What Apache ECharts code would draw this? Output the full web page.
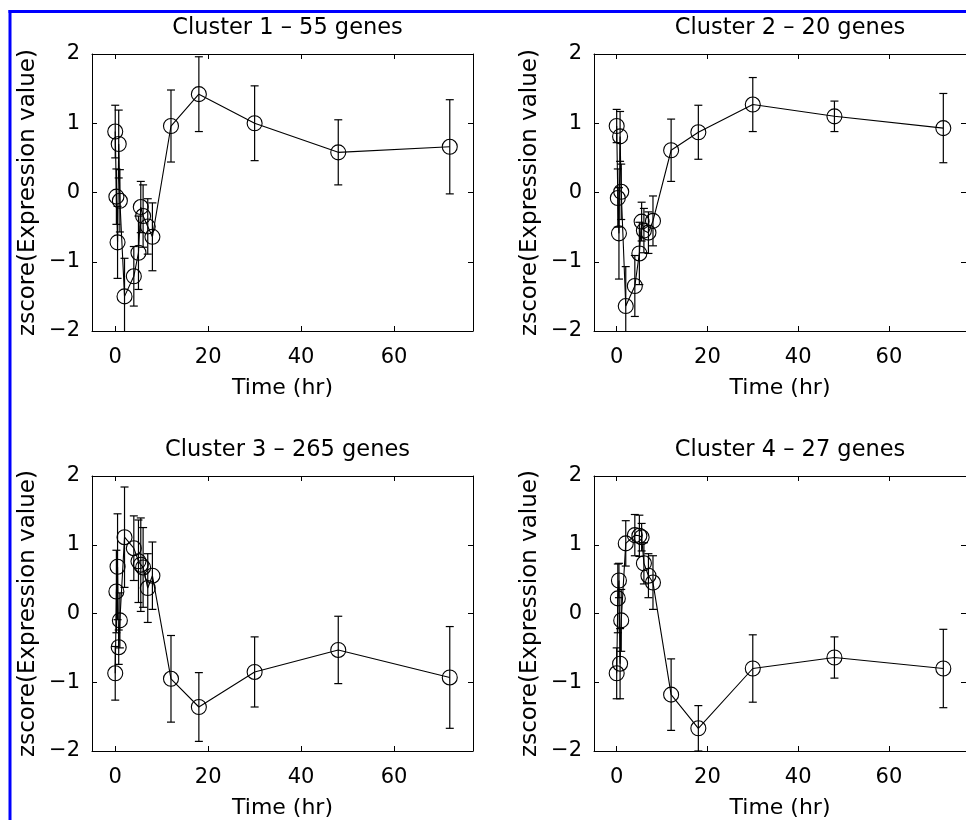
<!DOCTYPE html>
<html>
<head>
<meta charset="utf-8">
<script src="https://cdn.jsdelivr.net/npm/echarts@6/dist/echarts.min.js"></script>
<style>
html,body{margin:0;padding:0;background:#fff;}
#chart{width:966px;height:820px;}
</style>
</head>
<body>
<div id="chart"></div>
<script>
// ---- data ----
const times = [0, 0.25, 0.5, 0.75, 1, 2, 4, 5, 5.5, 6, 7, 8, 12, 18, 30, 48, 72];
const titles = ['Cluster 1 \u2013 55 genes', 'Cluster 2 \u2013 20 genes', 'Cluster 3 \u2013 265 genes', 'Cluster 4 \u2013 27 genes'];
const mean1 = [0.88, -0.06, -0.72, 0.70, -0.12, -1.50, -1.21, -0.87, -0.21, -0.34, -0.49, -0.64, 0.96, 1.42, 1.00, 0.58, 0.66];
const err1  = [0.38, 0.40, 0.52, 0.49, 0.45, 0.55, 0.43, 0.53, 0.37, 0.45, 0.40, 0.49, 0.52, 0.54, 0.54, 0.47, 0.68];
const mean2 = [0.96, -0.08, -0.59, 0.81, 0.01, -1.64, -1.35, -0.88, -0.42, -0.55, -0.58, -0.41, 0.61, 0.87, 1.27, 1.10, 0.93];
const err2  = [0.24, 0.42, 0.66, 0.36, 0.40, 0.57, 0.44, 0.45, 0.28, 0.32, 0.30, 0.36, 0.45, 0.39, 0.39, 0.22, 0.50];
const mean3 = [-0.87, 0.32, 0.68, -0.49, -0.10, 1.11, 0.95, 0.76, 0.71, 0.67, 0.37, 0.55, -0.95, -1.36, -0.85, -0.53, -0.93];
const err3  = [0.39, 0.60, 0.77, 0.25, 0.40, 0.73, 0.47, 0.60, 0.68, 0.58, 0.50, 0.49, 0.63, 0.50, 0.51, 0.49, 0.74];
const mean4 = [-0.87, 0.22, 0.48, -0.73, -0.10, 1.02, 1.14, 1.13, 1.11, 0.73, 0.55, 0.45, -1.18, -1.67, -0.80, -0.64, -0.80];
const err4  = [0.37, 0.50, 0.25, 0.51, 0.45, 0.33, 0.30, 0.30, 0.20, 0.30, 0.32, 0.39, 0.52, 0.33, 0.49, 0.30, 0.57];
const xTicks = [0, 20, 40, 60];
const xName = 'Time (hr)';
const yName = 'zscore(Expression value)';

const means = [mean1, mean2, mean3, mean4];
const errs = [err1, err2, err3, err4];

// ---- layout ----
const grids = [
  {left: 92, top: 54, width: 381, height: 277},
  {left: 594, top: 54, width: 382, height: 277},
  {left: 92, top: 476, width: 381, height: 275},
  {left: 594, top: 476, width: 382, height: 275}
];
const FONT = 'DejaVu Sans';
const fmtY = v => (v < 0 ? '\u2212' + Math.abs(v) : String(v));

const xAxes = [], yAxes = [], series = [], titleArr = [];
grids.forEach((g, i) => {
  const common = {gridIndex: i, min: -5, max: 77, splitLine: {show: false},
    axisLine: {show: true, onZero: false, lineStyle: {color: '#000', width: 1}}};
  xAxes.push(Object.assign({}, common, {
    type: 'value', position: 'bottom',
    axisTick: {show: true, inside: true, length: 5, lineStyle: {color: '#000'}, customValues: xTicks},
    axisLabel: {show: true, color: '#000', fontFamily: FONT, fontSize: 21, margin: 16, customValues: xTicks},
    name: xName, nameLocation: 'middle', nameGap: 46,
    nameTextStyle: {color: '#000', fontFamily: FONT, fontSize: 22}
  }));
  xAxes.push(Object.assign({}, common, {
    type: 'value', position: 'top',
    axisTick: {show: true, inside: true, length: 5, lineStyle: {color: '#000'}, customValues: xTicks},
    axisLabel: {show: false}
  }));
  const ycommon = {gridIndex: i, type: 'value', min: -2, max: 2, interval: 1, splitLine: {show: false},
    axisLine: {show: true, onZero: false, lineStyle: {color: '#000', width: 1}},
    axisTick: {show: true, inside: true, length: 5, lineStyle: {color: '#000'}}};
  yAxes.push(Object.assign({}, ycommon, {
    position: 'left',
    axisLabel: {show: true, color: '#000', fontFamily: FONT, fontSize: 21, margin: 12, formatter: fmtY},
    name: yName, nameLocation: 'middle', nameGap: 52,
    nameTextStyle: {color: '#000', fontFamily: FONT, fontSize: 23}
  }));
  yAxes.push(Object.assign({}, ycommon, {position: 'right', axisLabel: {show: false}}));

  titleArr.push({
    text: titles[i], left: g.left + g.width / 2, top: g.top - 42, textAlign: 'center',
    textStyle: {color: '#000', fontFamily: FONT, fontSize: 22.5, fontWeight: 'normal'}
  });

  const m = means[i], e = errs[i];
  series.push({
    type: 'custom', xAxisIndex: 2 * i, yAxisIndex: 2 * i,
    data: times.map((t, k) => [t, m[k] - e[k], m[k] + e[k]]),
    renderItem: function (params, api) {
      const x = api.value(0), lo = api.value(1), hi = api.value(2);
      const p1 = api.coord([x, hi]), p2 = api.coord([x, lo]);
      const cs = params.coordSys;
      const top = cs.y, bot = cs.y + cs.height;
      const y1 = Math.max(p1[1], top), y2 = Math.min(p2[1], bot);
      const hw = 4;
      const st = {stroke: '#000', lineWidth: 1.2};
      const ch = [{type: 'line', shape: {x1: p1[0], y1: y1, x2: p1[0], y2: y2}, style: st}];
      if (p1[1] >= top) ch.push({type: 'line', shape: {x1: p1[0] - hw, y1: p1[1], x2: p1[0] + hw, y2: p1[1]}, style: st});
      if (p2[1] <= bot) ch.push({type: 'line', shape: {x1: p2[0] - hw, y1: p2[1], x2: p2[0] + hw, y2: p2[1]}, style: st});
      return {type: 'group', children: ch};
    },
    z: 2
  });
  series.push({
    type: 'line', xAxisIndex: 2 * i, yAxisIndex: 2 * i,
    data: times.map((t, k) => [t, m[k]]),
    symbol: 'circle', symbolSize: 15, showSymbol: true, showAllSymbol: true,
    itemStyle: {color: 'rgba(0,0,0,0)', borderColor: '#000', borderWidth: 1.1},
    lineStyle: {color: '#000', width: 1.1},
    emphasis: {disabled: true},
    z: 3
  });
});

const chart = echarts.init(document.getElementById('chart'), null, {renderer: 'canvas'});
chart.setOption({
  animation: false,
  backgroundColor: '#fff',
  title: titleArr,
  grid: grids,
  xAxis: xAxes,
  yAxis: yAxes,
  series: series,
  graphic: [
    {type: 'line', shape: {x1: 8.5, y1: 11.5, x2: 966, y2: 11.5}, style: {stroke: '#0000ff', lineWidth: 3}, z: 100},
    {type: 'line', shape: {x1: 10, y1: 10, x2: 10, y2: 820}, style: {stroke: '#0000ff', lineWidth: 3}, z: 100}
  ]
});
</script>
</body>
</html>
